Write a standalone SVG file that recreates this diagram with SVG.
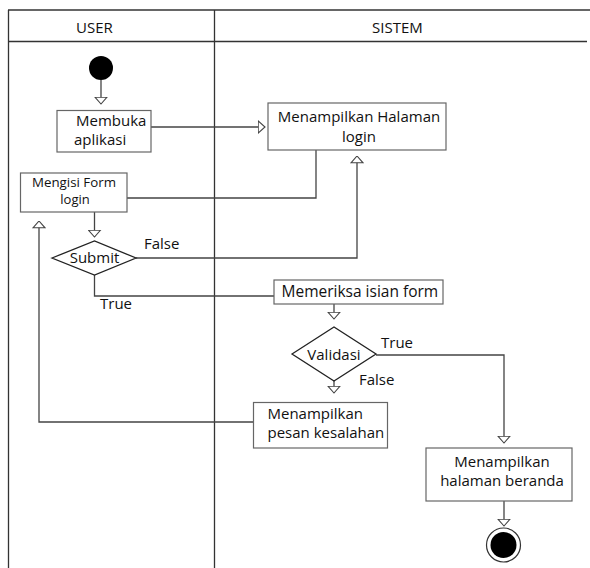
<svg xmlns="http://www.w3.org/2000/svg" width="590" height="568" viewBox="0 0 590 568">
<style>
text{font-family:"Open Sans","DejaVu Sans",sans-serif;font-size:15px;fill:#111}
.frame{stroke:#333;stroke-width:1.3;fill:none}
.box{fill:#fff;stroke:#666;stroke-width:1.2}
.dia{fill:#fff;stroke:#222;stroke-width:1.3}
.ln{fill:none;stroke:#444;stroke-width:1.3}
.arr{fill:none;stroke:#444;stroke-width:1.3;marker-end:url(#ah)}
.c{text-anchor:middle}
.sm{font-size:13px}
</style>
<defs>
<marker id="ah" markerUnits="userSpaceOnUse" viewBox="0 0 8 14" refX="7.5" refY="7" markerWidth="8" markerHeight="14" orient="auto">
<path d="M0.7,1 L7.5,7 L0.7,13 Z" fill="#fff" stroke="#444" stroke-width="1.1"/>
</marker>
</defs>
<g id="swimlanes">
<line class="frame" x1="8" y1="10" x2="590" y2="10"/>
<line class="frame" x1="8" y1="41.5" x2="587" y2="41.5"/>
<line class="frame" x1="8.5" y1="10" x2="8.5" y2="568"/>
<line class="frame" x1="214.5" y1="10" x2="214.5" y2="568"/>
<text x="76" y="33">USER</text>
<text x="372" y="33">SISTEM</text>
</g>
<g id="connectors">
<line class="arr" x1="101" y1="80" x2="101" y2="104"/>
<line class="arr" x1="151" y1="127" x2="265" y2="127"/>
<polyline class="ln" points="316,150 316,198 127,198"/>
<line class="arr" x1="94.5" y1="212" x2="94.5" y2="237"/>
<polyline class="arr" points="136,258 357,258 357,156"/>
<polyline class="ln" points="94.5,275 94.5,296 274,296"/>
<line class="arr" x1="334" y1="304" x2="334" y2="319"/>
<line class="arr" x1="334" y1="381" x2="334" y2="393"/>
<polyline class="arr" points="376,355 504,355 504,443"/>
<line class="arr" x1="504" y1="501" x2="504" y2="526"/>
<polyline class="arr" points="253,422 39,422 39,221"/>
<text x="144" y="249">False</text>
<text x="100" y="309">True</text>
<text x="381" y="348">True</text>
<text x="359" y="385">False</text>
</g>
<g id="start">
<circle cx="101" cy="68" r="12" fill="#000"/>
</g>
<g id="membuka-aplikasi">
<rect class="box" x="57" y="110.5" width="94" height="41.5"/>
<text x="76" y="126">Membuka</text>
<text x="74" y="145">aplikasi</text>
</g>
<g id="menampilkan-halaman-login">
<rect class="box" x="268" y="103" width="178" height="47"/>
<text class="c" x="359" y="122">Menampilkan Halaman</text>
<text class="c" x="359" y="142">login</text>
</g>
<g id="mengisi-form-login">
<rect class="box" x="20.5" y="173" width="106.5" height="39"/>
<text class="sm" x="32" y="186.5" textLength="84" lengthAdjust="spacingAndGlyphs">Mengisi Form</text>
<text class="c sm" x="75" y="204">login</text>
</g>
<g id="submit">
<polygon class="dia" points="52,258 94.5,241 136,258 94.5,275"/>
<text class="c" x="94.5" y="263">Submit</text>
</g>
<g id="memeriksa-isian-form">
<rect class="box" x="274" y="280" width="169" height="24"/>
<text x="281.5" y="296.5" style="font-size:15.5px">Memeriksa isian form</text>
</g>
<g id="validasi">
<polygon class="dia" points="292,354 334,327 376,354 334,381"/>
<text class="c" x="334" y="360">Validasi</text>
</g>
<g id="menampilkan-pesan-kesalahan">
<rect class="box" x="253.5" y="402.5" width="134" height="45.5"/>
<text x="267.5" y="419">Menampilkan</text>
<text x="267.5" y="438">pesan kesalahan</text>
</g>
<g id="menampilkan-halaman-beranda">
<rect class="box" x="426" y="448" width="146" height="53"/>
<text class="c" x="502" y="467">Menampilkan</text>
<text class="c" x="502" y="486">halaman beranda</text>
</g>
<g id="end">
<circle cx="503.5" cy="545" r="17" fill="#fff" stroke="#333" stroke-width="1.2"/>
<circle cx="503.5" cy="545" r="13" fill="#000"/>
</g>
</svg>
